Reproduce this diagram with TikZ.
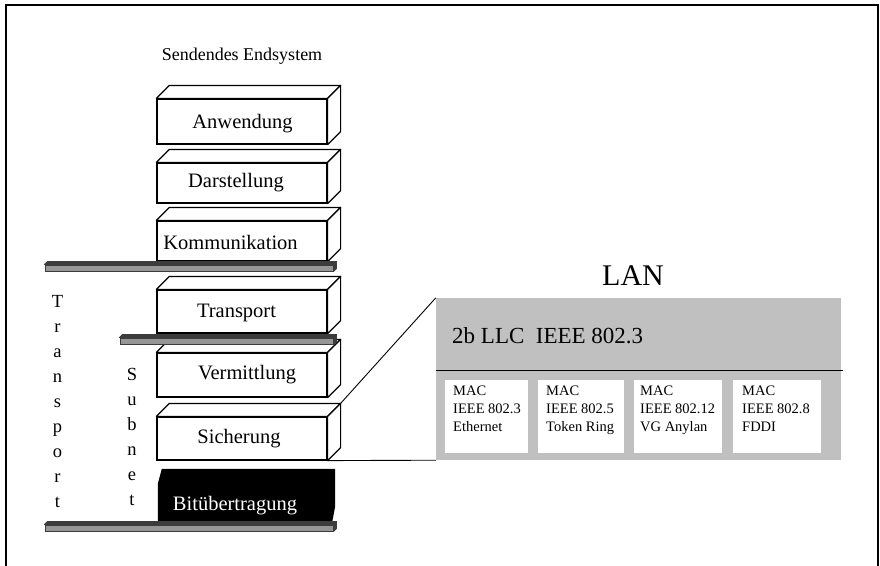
\documentclass[tikz,border=0pt]{standalone}
\usepackage{fontspec}
\setmainfont{Liberation Serif}
\definecolor{lanfill}{RGB}{192,192,192}
\definecolor{barfill}{RGB}{150,150,150}
\definecolor{bardark}{RGB}{60,60,60}
\begin{document}
\begin{tikzpicture}[x=1pt,y=-1pt,
  layer/.style={draw=black, fill=white, line width=1.2pt, minimum width=170pt, inner sep=0pt},
  face/.style={draw=black, fill=white, line width=1.2pt, line join=round},
  lbl/.style={anchor=base, inner sep=0pt, font=\fontsize{20.5}{24}\selectfont},
  slab/.style={draw=bardark, fill=barfill, line width=0.9pt, minimum height=6pt, inner sep=0pt},
  slabside/.style={draw=bardark, fill=bardark, line width=0.9pt, line join=round},
  vtext/.style={anchor=north, align=center, inner sep=0pt, font=\fontsize{18.5}{25}\selectfont},
  macbox/.style={fill=white, minimum height=73pt, inner sep=0pt},
  mactext/.style={anchor=north west, align=left, inner sep=0pt, font=\fontsize{14.5}{18}\selectfont},
  link/.style={draw=black, line width=0.9pt}
]
\useasboundingbox (0,0) rectangle (880,565);

% frame, open at the bottom
\draw[line width=2pt] (6,575) -- (6,5) -- (878,5) -- (878,575);

% title of the protocol stack
\node[anchor=base, inner sep=0pt, font=\fontsize{18}{22}\selectfont] (title) at (242,60) {Sendendes Endsystem};

% front faces of the layer boxes
\node[layer, minimum height=45pt] (anw) at (242,121.5) {};
\node[layer, minimum height=40pt] (dar) at (242,183) {};
\node[layer, minimum height=40pt] (kom) at (242,241) {};
\node[layer, minimum height=43pt] (tra) at (242,311.5) {};
\node[layer, minimum height=44pt] (ver) at (242,375) {};
\node[layer, minimum height=43pt] (sic) at (242,438.5) {};

% top and side faces giving the boxes depth
\foreach \n in {anw,dar,kom,tra,ver,sic}{
  \draw[face] (\n.north west) -- ++(13,-13) -- ([shift={(13,-13)}]\n.north east) -- (\n.north east) -- cycle;
  \draw[face] (\n.north east) -- ++(13,-13) -- ([shift={(13,-13)}]\n.south east) -- (\n.south east) -- cycle;
}

% layer labels
\node[lbl] (lanw) at (242.5,128) {Anwendung};
\node[lbl] (ldar) at (236,187) {Darstellung};
\node[lbl] (lkom) at (230.5,249) {Kommunikation};
\node[lbl] (ltra) at (236.5,317) {Transport};
\node[lbl] (lver) at (247,379) {Vermittlung};
\node[lbl] (lsic) at (239,443) {Sicherung};

% physical layer, drawn as a black block with trimmed corners
\node[minimum width=177pt, minimum height=53pt, inner sep=0pt] (bit) at (246.5,495.5) {};
\fill[black] ([xshift=4pt]bit.north west) -- (bit.north east) -- ([yshift=16pt]bit.south east)
  -- ([xshift=-3pt]bit.south east) -- (bit.south west) -- ([yshift=-15pt]bit.north west) -- cycle;
\node[lbl, text=white] (lbit) at (235,510) {Bitübertragung};

% separating slabs
\node[slab, minimum width=288pt] (bar1) at (189,268) {};
\node[slab, minimum width=213pt] (bar2) at (226.5,341) {};
\node[slab, minimum width=288pt] (bar3) at (189,528) {};
\foreach \b in {bar1,bar2,bar3}{
  \draw[slabside] (\b.north west) -- ++(3,-3) -- ([shift={(3,-3)}]\b.north east) -- (\b.north east) -- cycle;
  \draw[slabside] (\b.north east) -- ++(3,-3) -- ([shift={(3,-3)}]\b.south east) -- (\b.south east) -- cycle;
}

% vertical words
\node[vtext] (wtrans) at (57.5,295) {T\\r\\a\\n\\s\\p\\o\\r\\t};
\node[vtext] (wsub) at (132,368) {S\\u\\b\\n\\e\\t};

% LAN detail
\node[anchor=base, inner sep=0pt, font=\fontsize{30}{34}\selectfont] (lantitle) at (633,285) {LAN};
\node[fill=lanfill, minimum width=405pt, minimum height=162pt, inner sep=0pt] (lan) at (638.5,379) {};
\coordinate (divL) at (436,370);
\coordinate (divR) at (843,370);
\draw[link] (divL) -- (divR);
\node[anchor=base west, inner sep=0pt, font=\fontsize{23}{27}\selectfont] (llc) at (452,343) {2b LLC\ \ IEEE 802.3};

\node[macbox, minimum width=83pt] (mac1) at (486.5,416.5) {};
\node[macbox, minimum width=86pt] (mac2) at (581,416.5) {};
\node[macbox, minimum width=88pt] (mac3) at (678,416.5) {};
\node[macbox, minimum width=88pt] (mac4) at (777,416.5) {};
\node[mactext] (mt1) at (453,386) {MAC\\IEEE 802.3\\Ethernet};
\node[mactext] (mt2) at (546,386) {MAC\\IEEE 802.5\\Token Ring};
\node[mactext] (mt3) at (640,386) {MAC\\IEEE 802.12\\VG Anylan};
\node[mactext] (mt4) at (742,386) {MAC\\IEEE 802.8\\FDDI};

% zoom lines from the data link layer to the LAN detail
\coordinate (sicback) at ([shift={(13,-13)}]sic.north east);
\draw[link] (sicback) -- (lan.north west);
\draw[link] (sic.south east) -- (lan.south west);
\end{tikzpicture}
\end{document}
